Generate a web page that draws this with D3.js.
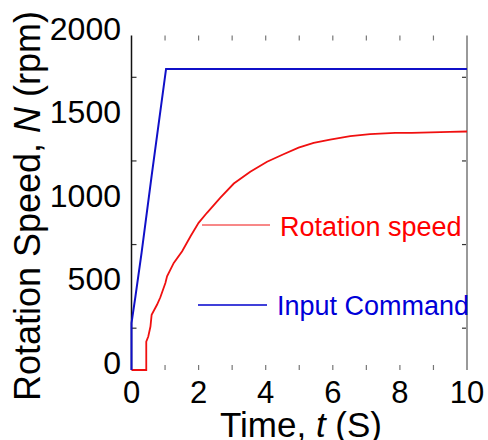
<!DOCTYPE html>
<html>
<head>
<meta charset="utf-8">
<script src="https://cdn.jsdelivr.net/npm/d3@7"></script>
<style>
  body { margin: 0; background: #fff; }
  svg { font-family: "Liberation Sans", Arial, sans-serif; }
</style>
</head>
<body>
<svg id="chart" width="488" height="440"></svg>
<script>
const speedTime = [0, 0.44, 0.44, 0.5, 0.565, 0.6, 0.76, 0.86, 1.01, 1.06, 1.26, 1.51, 1.76, 2.0, 2.25, 2.65, 3.05, 3.54, 4.04, 4.53, 4.98, 5.43, 5.92, 6.52, 7.11, 7.86, 8.35, 9.49, 10];
const speedRpm  = [0, 0, 170, 200, 260, 330, 390, 435, 520, 560, 640, 710, 800, 880, 940, 1030, 1115, 1185, 1245, 1290, 1330, 1358, 1378, 1398, 1410, 1418, 1418, 1424, 1426];
const cmdTime = [0, 0, 0.11, 0.3, 0.6, 1.03, 10];
const cmdRpm  = [0, 280, 430, 700, 1160, 1800, 1800];
const xTicks = [0, 2, 4, 6, 8, 10];
const yTicks = [0, 500, 1000, 1500, 2000];
const xMinor = [1, 2, 3, 4, 5, 6, 7, 8, 9];
const yMinor = [250, 750, 1250, 1750];

const svg = d3.select("#chart");
const x = d3.scaleLinear().domain([0, 10]).range([131.5, 467]);
const y = d3.scaleLinear().domain([0, 2000]).range([370, 35.5]);

// ticks, inward
const g = svg.append("g");
g.selectAll(".xb").data(xMinor).join("line")
  .attr("x1", d => x(d)).attr("x2", d => x(d))
  .attr("y1", y(0)).attr("y2", y(0) - 5)
  .attr("stroke", "#777").attr("stroke-width", 1.2);
g.selectAll(".xt").data(xMinor).join("line")
  .attr("x1", d => x(d)).attr("x2", d => x(d))
  .attr("y1", y(2000)).attr("y2", y(2000) + 5)
  .attr("stroke", "#777").attr("stroke-width", 1.2);
g.selectAll(".yl").data(yMinor).join("line")
  .attr("x1", x(0)).attr("x2", x(0) + 5)
  .attr("y1", d => y(d)).attr("y2", d => y(d))
  .attr("stroke", "#333").attr("stroke-width", 1.2);
g.selectAll(".yr").data(yMinor).join("line")
  .attr("x1", x(10)).attr("x2", x(10) - 5)
  .attr("y1", d => y(d)).attr("y2", d => y(d))
  .attr("stroke", "#333").attr("stroke-width", 1.2);

// frame: left black, right grey
svg.append("line").attr("x1", x(0)).attr("x2", x(0))
  .attr("y1", y(2000)).attr("y2", y(0)).attr("stroke", "#111").attr("stroke-width", 1.5);
svg.append("line").attr("x1", x(10)).attr("x2", x(10))
  .attr("y1", y(2000)).attr("y2", y(0)).attr("stroke", "#999").attr("stroke-width", 2);

// tick labels
svg.selectAll(".xl").data(xTicks).join("text")
  .attr("x", d => x(d)).attr("y", 403)
  .attr("text-anchor", "middle").attr("font-size", 31).text(d => d);
svg.selectAll(".ylab").data(yTicks).join("text")
  .attr("x", 121).attr("y", d => y(d) + 4)
  .attr("text-anchor", "end").attr("font-size", 32).text(d => d);

// series
const line = d3.line().x(d => x(d[0])).y(d => y(d[1]));
svg.append("path").datum(d3.zip(speedTime, speedRpm))
  .attr("d", line).attr("fill", "none").attr("stroke", "#f01010").attr("stroke-width", 1.8);
svg.append("path").datum(d3.zip(cmdTime, cmdRpm))
  .attr("d", line).attr("fill", "none").attr("stroke", "#1010c8").attr("stroke-width", 2);

// labels on the lines
svg.append("line").attr("x1", 202).attr("x2", 270).attr("y1", 225).attr("y2", 225)
  .attr("stroke", "#f01010").attr("stroke-width", 1);
svg.append("text").attr("x", 280).attr("y", 236).attr("font-size", 27)
  .attr("fill", "#ff0000").text("Rotation speed");
svg.append("line").attr("x1", 198).attr("x2", 267).attr("y1", 305).attr("y2", 305)
  .attr("stroke", "#0000cc").attr("stroke-width", 1.5);
svg.append("text").attr("x", 277).attr("y", 315).attr("font-size", 27)
  .attr("fill", "#0000d8").text("Input Command");

// axis titles
const xt = svg.append("text").attr("x", 301).attr("y", 437)
  .attr("text-anchor", "middle").attr("font-size", 35);
xt.append("tspan").text("Time, ");
xt.append("tspan").attr("font-style", "italic").text("t");
xt.append("tspan").text(" (S)");

const yt = svg.append("text").attr("transform", "translate(40,206) rotate(-90)")
  .attr("text-anchor", "middle").attr("font-size", 36);
yt.append("tspan").text("Rotation Speed, ");
yt.append("tspan").attr("font-style", "italic").text("N");
yt.append("tspan").text(" (rpm)");
</script>
</body>
</html>
